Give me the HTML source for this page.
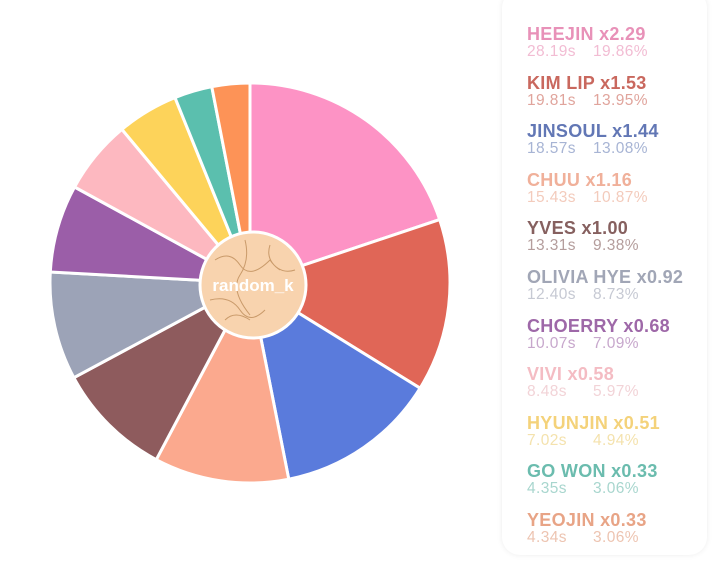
<!DOCTYPE html>
<html><head><meta charset="utf-8"><style>
body{margin:0;width:720px;height:569px;background:#fff;overflow:hidden;font-family:"Liberation Sans",sans-serif;position:relative}
#panel{position:absolute;left:502px;top:-10px;width:205px;height:565px;background:#fff;border-radius:18px;box-shadow:0 0 6px rgba(0,0,0,0.08)}
.it{position:absolute;left:527px}
.t{font-weight:bold;font-size:18px;line-height:19px;white-space:nowrap;letter-spacing:0.3px}
.s{font-size:15.5px;line-height:16px;white-space:nowrap;margin-top:0px;letter-spacing:0.4px}
.s span{display:inline-block;width:66px}
</style></head><body>
<div id="panel"></div>
<svg id="pie" width="500" height="569" style="position:absolute;left:0;top:0"></svg>
<div id="leg"></div>
<script>
var d=[["HEEJIN x2.29","28.19s","19.86%",19.86,"#fd93c5","#e891b8","#f2bcd3"],
["KIM LIP x1.53","19.81s","13.95%",13.95,"#e06657","#c9685e","#e0a49c"],
["JINSOUL x1.44","18.57s","13.08%",13.08,"#5a7bdc","#6277b5","#a7b4d4"],
["CHUU x1.16","15.43s","10.87%",10.87,"#fba98e","#f0b09a","#f3cbbc"],
["YVES x1.00","13.31s","9.38%",9.38,"#8e5b5d","#86605f","#b49d9c"],
["OLIVIA HYE x0.92","12.40s","8.73%",8.73,"#9ca3b7","#a1a6b6","#c6c9d3"],
["CHOERRY x0.68","10.07s","7.09%",7.09,"#9b5ea8","#9e68a8","#c7a7cc"],
["VIVI x0.58","8.48s","5.97%",5.97,"#fdb8c0","#f4bcc3","#f2d3d7"],
["HYUNJIN x0.51","7.02s","4.94%",4.94,"#fdd35a","#f4d27a","#f4e2ad"],
["GO WON x0.33","4.35s","3.06%",3.06,"#5bbfae","#6bbcae","#a8d6ce"],
["YEOJIN x0.33","4.34s","3.06%",3.06,"#fd9357","#e8a486","#edc4b1"]];
var cx=250,cy=283,r=200,a=0,s="",l="";
var tot=d.reduce(function(p,c){return p+c[3]},0);
d.forEach(function(e,i){
 var b=a+e[3]/tot*2*Math.PI;
 var x1=cx+r*Math.sin(a),y1=cy-r*Math.cos(a),x2=cx+r*Math.sin(b),y2=cy-r*Math.cos(b);
 s+='<path d="M'+cx+','+cy+'L'+x1+','+y1+'A'+r+','+r+' 0 '+((b-a)>Math.PI?1:0)+' 1 '+x2+','+y2+'Z" fill="'+e[4]+'" stroke="#fff" stroke-width="3"/>';
 a=b;
 var y=25+i*48.6;
 l+='<div class="it" style="top:'+y+'px"><div class="t" style="color:'+e[5]+'">'+e[0]+'</div><div class="s" style="color:'+e[6]+'"><span>'+e[1]+'</span>'+e[2]+'</div></div>';
});
s+='<circle cx="253" cy="285" r="53" fill="#f8d3ae" stroke="#fff" stroke-width="3"/>';
s+='<path d="M215,260 q15,-10 25,5 t30,-5 q10,15 25,10 M210,300 q20,-5 30,10 t25,0 M245,240 q5,20 -5,35 t10,40 M270,245 q-5,15 10,25 M225,320 q10,-10 25,0" fill="none" stroke="#c99a6a" stroke-width="1"/>';
s+='<text x="253" y="291" text-anchor="middle" font-family="Liberation Sans, sans-serif" font-weight="bold" font-size="17" fill="#fff">random_k</text>';
document.getElementById('pie').innerHTML=s;
document.getElementById('leg').innerHTML=l;
</script>
</body></html>
